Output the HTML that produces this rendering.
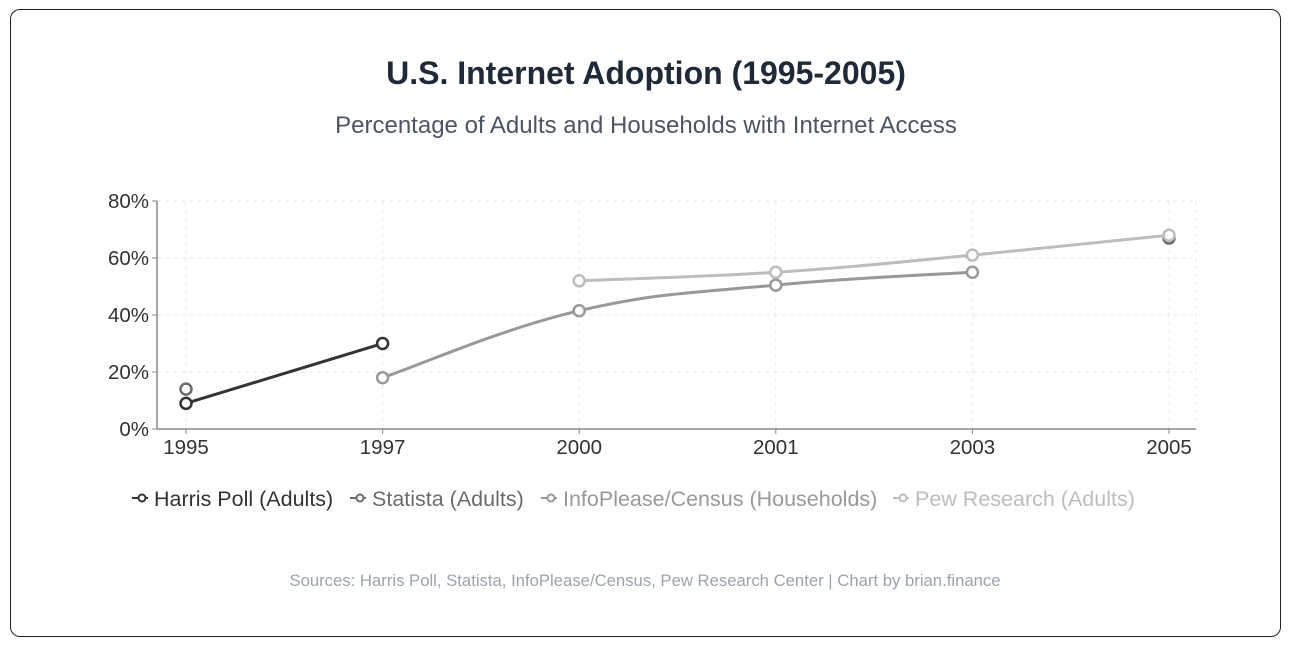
<!DOCTYPE html>
<html><head><meta charset="utf-8"><style>
body{margin:0;width:1292px;height:650px;background:#fff;font-family:"Liberation Sans",Arial,sans-serif;overflow:hidden}
.card{position:absolute;left:10px;top:9px;width:1271px;height:628px;border:1.5px solid #222;border-radius:10px;box-sizing:border-box}
</style></head><body>
<div class="card"></div>
<svg width="1292" height="650" style="position:absolute;left:0;top:0">
<text x="646" y="84" text-anchor="middle" font-size="32" font-weight="bold" fill="#1f2937">U.S. Internet Adoption (1995-2005)</text>
<text x="646" y="133" text-anchor="middle" font-size="24" fill="#4b5563">Percentage of Adults and Households with Internet Access</text>
<g id="grid"></g><g id="axes"></g><g id="series"></g><g id="legend"></g>
<text x="645" y="586" text-anchor="middle" font-size="16.7" fill="#9ca3af">Sources: Harris Poll, Statista, InfoPlease/Census, Pew Research Center | Chart by brian.finance</text>
</svg>
<script>
const categories=["1995","1997","2000","2001","2003","2005"];
const yTicks=[0,20,40,60,80];
const harris=[9,30,null,null,null,null];
const statista=[14,null,null,null,null,67];
const infoplease=[null,18,41.5,50.5,55,null];
const pew=[null,null,52,55,61,68];
const seriesNames=["Harris Poll (Adults)","Statista (Adults)","InfoPlease/Census (Households)","Pew Research (Adults)"];
const seriesColors=["#333333","#6b6b6b","#999999","#bdbdbd"];
const allSeries=[harris,statista,infoplease,pew];
const NS="http://www.w3.org/2000/svg";
const L=157,R=1196,T=201,B=429;
const x0=186,x1=1169;
const x=i=>x0+(x1-x0)*i/(categories.length-1);
const y=v=>B-(v/80)*(B-T);
function mk(tag,attrs,parent){const e=document.createElementNS(NS,tag);for(const k in attrs)e.setAttribute(k,attrs[k]);parent.appendChild(e);return e;}
const grid=document.getElementById('grid'),axes=document.getElementById('axes'),ser=document.getElementById('series'),leg=document.getElementById('legend');
yTicks.forEach(t=>{
 const g=mk('line',{x1:L,x2:R,y1:y(t),y2:y(t),stroke:'#e8e8e8','stroke-dasharray':'4 4'},grid);
 
 
 const tl=mk('text',{x:L-8,y:y(t)+7,'text-anchor':'end','font-size':20.5,fill:'#333'},axes);
 tl.textContent=t+'%';
 
 
 mk('line',{x1:L-5,x2:L,y1:y(t),y2:y(t),stroke:'#888'},axes);
});
categories.forEach((c,i)=>{
 const g=mk('line',{x1:x(i),x2:x(i),y1:T,y2:B,stroke:'#e8e8e8','stroke-dasharray':'4 4'},grid);
 
 
 mk('line',{x1:x(i),x2:x(i),y1:B,y2:B+5,stroke:'#888'},axes);
 const tl=mk('text',{x:x(i),y:B+25,'text-anchor':'middle','font-size':20.5,fill:'#333'},axes);
 tl.textContent=c;
 
 
});
mk('line',{x1:R,x2:R,y1:T,y2:B,stroke:'#e8e8e8','stroke-dasharray':'4 4'},grid);
mk('line',{x1:L,x2:L,y1:T,y2:B,stroke:'#888','stroke-width':1.5},axes);
mk('line',{x1:L,x2:R,y1:B,y2:B,stroke:'#888','stroke-width':1.5},axes);
function pathFor(pts){
 let d='M'+pts[0][0]+','+pts[0][1];
 for(let i=0;i<pts.length-1;i++){
  const p0=pts[i-1]||pts[i],p1=pts[i],p2=pts[i+1],p3=pts[i+2]||p2;
  const t=0.2;
  d+=' C'+(p1[0]+(p2[0]-p0[0])*t)+','+(p1[1]+(p2[1]-p0[1])*t)+' '+(p2[0]-(p3[0]-p1[0])*t)+','+(p2[1]-(p3[1]-p1[1])*t)+' '+p2[0]+','+p2[1];
 }
 return d;
}
[1,3,2,0].forEach(si=>{
 const s=allSeries[si],col=seriesColors[si];
 let seg=[];
 const flush=()=>{if(seg.length>1){const p=mk('path',{d:pathFor(seg),fill:'none',stroke:col,'stroke-width':3},ser);
  
  }seg=[];};
 s.forEach((v,i)=>{if(v==null){flush();}else seg.push([x(i),y(v)]);});
 flush();
 s.forEach((v,i)=>{if(v==null)return;
  const c=mk('circle',{cx:x(i),cy:y(v),r:5.5,fill:'#fff',stroke:col,'stroke-width':2.5},ser);
  
  
 });
});
const legX=[132,350,541,893];
seriesNames.forEach((n,i)=>{
 const lx=legX[i];
 const g=mk('g',{},leg);
 
 
 mk('line',{x1:lx,x2:lx+16,y1:498,y2:498,stroke:seriesColors[i],'stroke-width':2},g);
 mk('circle',{cx:lx+10,cy:498,r:3.5,fill:'#fff',stroke:seriesColors[i],'stroke-width':2},g);
 const t=mk('text',{x:lx+22,y:506,'font-size':21.5,fill:seriesColors[i]},g);
 t.textContent=n;
});
</script>
</body></html>
